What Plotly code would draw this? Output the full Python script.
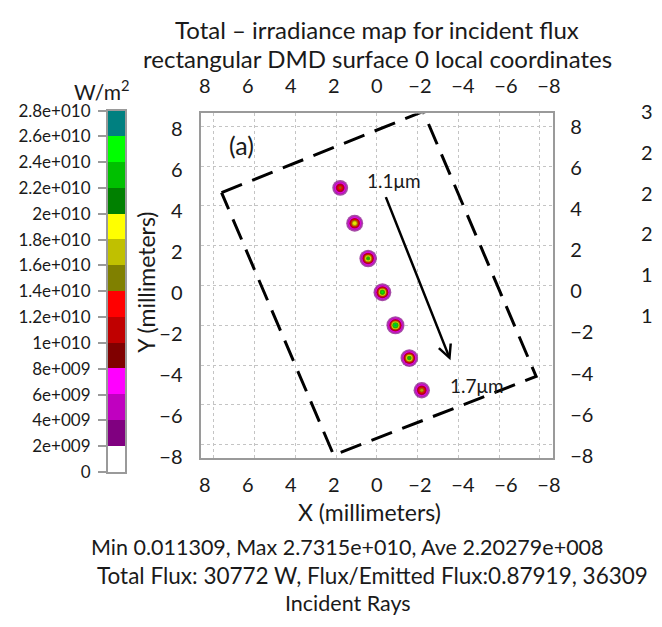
import plotly.graph_objects as go
import numpy as np

# ---------------- data ----------------
spot_x = [1.80, 1.09, 0.43, -0.27, -0.91, -1.59, -2.20]
spot_y = [4.91, 3.13, 1.36, -0.34, -2.00, -3.65, -5.27]
spot_peak = [1.5e10, 1.98e10, 2.3e10, 2.5e10, 2.7315e10, 2.4e10, 1.7e10]

box_x = [7.62, -2.27, -7.81, 2.12, 7.62]
box_y = [4.67, 8.75, -4.57, -8.53, 4.67]

arrow_tail = (-0.41, 4.52)
arrow_tip = (-3.61, -3.76)

label_a = (6.66, 7.07)
label_start = (-0.85, 5.28)
label_end = (-4.92, -5.04)

level_edges = [0, 2e9, 4e9, 6e9, 8e9, 1e10, 1.2e10, 1.4e10, 1.6e10, 1.8e10,
               2e10, 2.2e10, 2.4e10, 2.6e10, 2.8e10]
level_labels = ["0", "2e+009", "4e+009", "6e+009", "8e+009", "1e+010", "1.2e+010",
                "1.4e+010", "1.6e+010", "1.8e+010", "2e+010", "2.2e+010", "2.4e+010",
                "2.6e+010", "2.8e+010"]
axis_ticks = [-8, -6, -4, -2, 0, 2, 4, 6, 8]

title_lines = ["Total \u2013 irradiance map for incident flux",
               "rectangular DMD surface 0 local coordinates"]
stats_lines = ["Min 0.011309, Max 2.7315e+010, Ave 2.20279e+008",
               "Total Flux: 30772 W, Flux/Emitted Flux:0.87919, 36309",
               "Incident Rays"]
neighbor_labels = ["3", "2", "2", "2", "1", "1"]

# ---------------- style ----------------
band_colors = ['#ffffff', '#800080', '#c000c0', '#ff00ff', '#800000', '#c00000',
               '#ff0000', '#808000', '#c0c000', '#ffff00', '#008000', '#00c000',
               '#00ff00', '#008080']
nb = len(band_colors)
cscale = []
for i, c in enumerate(band_colors):
    cscale.append([i / nb, c])
    cscale.append([(i + 1) / nb, c])

FONT = "Lato"
TXT = "#1a1a1a"
W, H = 662, 627

def px(x):
    return x / W

def py(y):
    return 1 - y / H

main_x = [px(202), px(559)]
main_y = [py(462), py(106)]
cb_x = [px(108), px(126)]
cb_y = [py(477), py(103)]

fig = go.Figure()

# spots as contour rings (outermost band first)
zmin, zmax = level_edges[0], level_edges[-1]
ring_k = 11.2
for i in range(1, nb):
    lo = level_edges[i]
    mid = (level_edges[i] + level_edges[i + 1]) / 2
    xs, ys, ss = [], [], []
    for x, y, p in zip(spot_x, spot_y, spot_peak):
        if p > lo:
            xs.append(x)
            ys.append(y)
            ss.append(ring_k * np.sqrt(np.log(p / lo)))
    if xs:
        fig.add_trace(go.Scatter(
            x=xs, y=ys, mode="markers", xaxis="x", yaxis="y",
            marker=dict(size=ss, color=[mid] * len(xs), colorscale=cscale,
                        cmin=zmin, cmax=zmax, line=dict(width=0)),
            hoverinfo="skip", showlegend=False))

# dashed DMD outline
fig.add_trace(go.Scatter(x=box_x, y=box_y, mode="lines", xaxis="x", yaxis="y",
                         line=dict(color="black", width=3, dash="22px,11px"),
                         hoverinfo="skip", showlegend=False))

# dummy traces for label axes
fig.add_trace(go.Scatter(x=[0], y=[0], xaxis="x2", yaxis="y2", mode="markers",
                         marker=dict(opacity=0), hoverinfo="skip", showlegend=False))
fig.add_trace(go.Scatter(x=[0], y=[0], xaxis="x3", yaxis="y3", mode="markers",
                         marker=dict(opacity=0), hoverinfo="skip", showlegend=False))

# colour bar as heatmap
centers = [(level_edges[i] + level_edges[i + 1]) / 2 for i in range(nb)]
fig.add_trace(go.Heatmap(x=[0], y=centers, z=[[c] for c in centers], xaxis="x4", yaxis="y4",
                         colorscale=cscale, zmin=zmin, zmax=zmax, showscale=False,
                         hoverinfo="skip"))

tickfont = dict(family=FONT, size=20, color=TXT)
frame = dict(showline=True, mirror=True, linecolor="#9a9a9a", linewidth=1.5)

fig.update_layout(
    width=W, height=H, autosize=False,
    margin=dict(l=0, r=0, t=0, b=0),
    paper_bgcolor="white", plot_bgcolor="white",
    showlegend=False,
    xaxis=dict(domain=main_x, anchor="y", range=[8.65, -8.65], tickvals=axis_ticks,
               showticklabels=False, ticks="", showgrid=True, gridcolor="#c4c4c4",
               griddash="dot", gridwidth=1, zeroline=False, **frame),
    yaxis=dict(domain=main_y, anchor="x", range=[-8.65, 8.65], tickvals=axis_ticks,
               showticklabels=False, ticks="", showgrid=True, gridcolor="#c4c4c4",
               griddash="dot", gridwidth=1, zeroline=False, **frame),
    xaxis2=dict(overlaying="x", anchor="y2", side="bottom", range=[8.2, -8.2],
                tickvals=axis_ticks, showgrid=False, zeroline=False, showline=False,
                ticks="", tickfont=tickfont, ticklabelstandoff=13),
    yaxis2=dict(overlaying="y", anchor="x2", side="left", range=[-8.03, 8.74],
                tickvals=axis_ticks, showgrid=False, zeroline=False, showline=False,
                ticks="", tickfont=tickfont, ticklabelstandoff=17),
    xaxis3=dict(overlaying="x", anchor="y3", side="top", range=[8.2, -8.2],
                tickvals=axis_ticks, showgrid=False, zeroline=False, showline=False,
                ticks="", tickfont=tickfont, ticklabelstandoff=15),
    yaxis3=dict(overlaying="y", anchor="x3", side="right", range=[-8.09, 8.66],
                tickvals=axis_ticks, showgrid=False, zeroline=False, showline=False,
                ticks="", tickfont=tickfont, ticklabelstandoff=16),
    xaxis4=dict(domain=cb_x, anchor="y4", range=[-0.5, 0.5], showticklabels=False,
                ticks="", showgrid=False, zeroline=False, **frame),
    yaxis4=dict(domain=cb_y, anchor="x4", range=[zmin, zmax], tickvals=level_edges,
                ticktext=level_labels, ticks="outside", ticklen=8, tickcolor="#9a9a9a",
                tickwidth=1.5, showgrid=False, zeroline=False, side="left",
                tickfont=dict(family=FONT, size=17, color=TXT), ticklabelstandoff=4,
                **frame),
)

ann = []
def note(text, x, y, size, xanchor="center", textangle=0, xref="paper", yref="paper"):
    ann.append(dict(text=text, x=x, y=y, xref=xref, yref=yref, showarrow=False,
                    xanchor=xanchor, yanchor="middle", textangle=textangle,
                    font=dict(family=FONT, size=size, color=TXT)))

note(title_lines[0], px(381), py(19), 24)
note(title_lines[1], px(381), py(49), 24)
note("W/m<sup>2</sup>", px(102), py(82), 21)
note("X (millimeters)", px(373), py(518), 23)
note("Y (millimeters)", px(146), py(281), 23, textangle=-90)
note(stats_lines[0], px(351), py(555), 21.5)
note(stats_lines[1], px(95), py(584), 22.5, xanchor="left")
note(stats_lines[2], px(351), py(613), 21.5)
for i, t in enumerate(neighbor_labels):
    note(t, px(662), py(103 + 42.4 * i), 20, xanchor="right")

note("(a)", label_a[0], label_a[1], 25, xref="x", yref="y")
note("1.1\u03bcm", label_start[0], label_start[1], 19, xref="x", yref="y")
note("1.7\u03bcm", label_end[0], label_end[1], 19, xref="x", yref="y")

ann.append(dict(x=arrow_tip[0], y=arrow_tip[1], ax=arrow_tail[0], ay=arrow_tail[1],
                xref="x", yref="y", axref="x", ayref="y", text="", showarrow=True,
                arrowhead=5, arrowsize=1.0, arrowwidth=2.5, arrowcolor="black",
                standoff=0, startstandoff=0))

fig.update_layout(annotations=ann)
fig.write_html("out.html", config={"displayModeBar": False},
               post_script="document.body.style.margin='0px';")
